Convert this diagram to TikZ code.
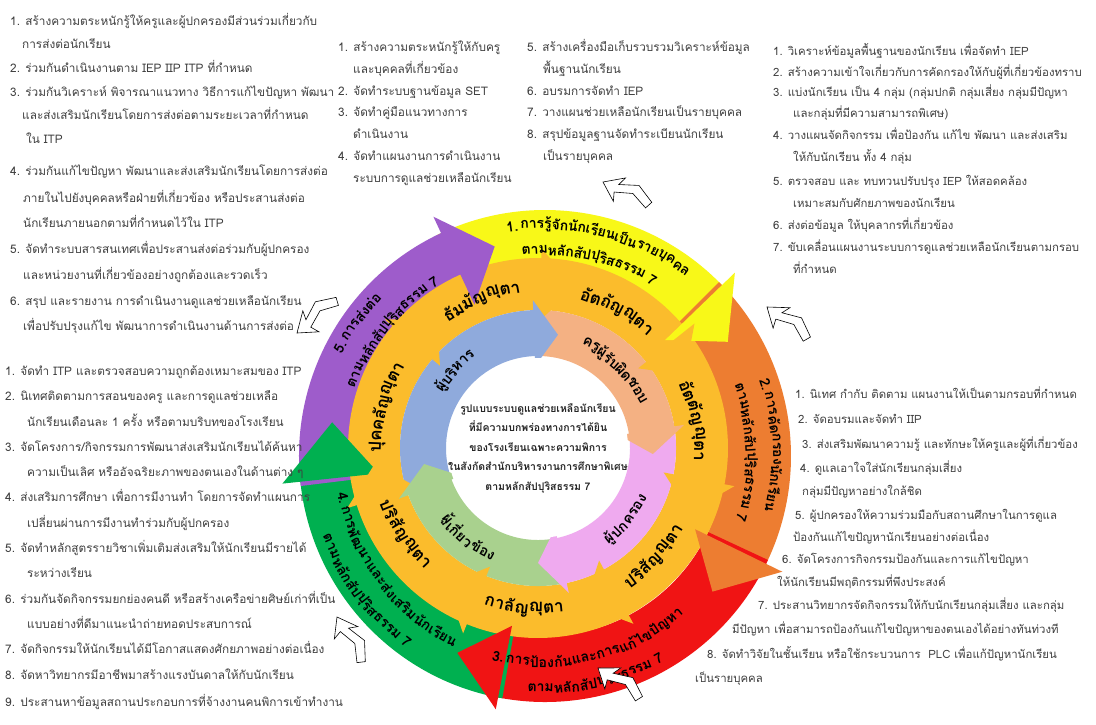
\documentclass[tikz,border=0pt]{standalone}
\usepackage{fontspec}
\newfontfamily\thai[Script=Thai]{Loma}
\usetikzlibrary{calc}
\definecolor{cyel}{HTML}{F8F818}
\definecolor{corg}{HTML}{ED7D31}
\definecolor{cred}{HTML}{F01414}
\definecolor{cgrn}{HTML}{00B050}
\definecolor{cpur}{HTML}{9E5CCB}
\definecolor{cgold}{HTML}{FBBC2C}
\definecolor{cblue}{HTML}{8FAADC}
\definecolor{csal}{HTML}{F4B183}
\definecolor{cpink}{HTML}{EFAAEF}
\definecolor{clgrn}{HTML}{A9D18E}
\definecolor{boxtxt}{HTML}{404040}
\newcounter{chk}
\makeatletter
\newdimen\arcTot
\newdimen\arcW
\newbox\arcBox
\gdef\arcnodes{}
% prepared outside the picture: #1 centre, #2 font, #3 radius, #4 mid angle, #5 dir (1 tops out, -1 tops in), #6 chunks
\newcommand\arcprep[6]{%
  \global\arcTot=0pt\relax
  \@for\ck:=#6\do{\setbox\arcBox\hbox{#2\ck}\global\advance\arcTot by \wd\arcBox}%
  \edef\arcTotv{\strip@pt\arcTot}%
  \pgfmathsetmacro\arccur{#4+(#5)*\arcTotv/(#3)*28.6479}%
  \@for\ck:=#6\do{%
    \setbox\arcBox\hbox{#2\ck}\arcW=\wd\arcBox\relax
    \edef\arcWv{\strip@pt\arcW}%
    \pgfmathsetmacro\arcmid{\arccur-(#5)*\arcWv/(#3)*28.6479}%
    \pgfmathsetmacro\arccur{\arccur-(#5)*\arcWv/(#3)*57.2958}%
    \pgfmathsetmacro\arcrot{\arcmid-(#5)*90}%
    \stepcounter{chk}%
    \xdef\arcnodes{\unexpanded\expandafter{\arcnodes}%
      \noexpand\node[inner sep=0pt,rotate=\arcrot] (chk\thechk) at ($(#1)+(\arcmid:#3)$) {\unexpanded{#2}\unexpanded\expandafter{\ck}};}%
  }%
}
\makeatother
% band: #1 centre #2 colour #3 rin #4 rout #5 start #6 end
\newcommand\rband[6]{%
  \fill[#2] ($(#1)+(#5:#4)$) arc[start angle=#5,end angle=#6,radius=#4]
    -- ($(#1)+(#6:#3)$) arc[start angle=#6,end angle=#5,radius=#3] -- cycle;}
% head: #1 centre #2 colour #3 rin #4 rout #5 base #6 tip #7 ext
\newcommand\rhead[7]{%
  \pgfmathsetmacro\hdo{#4+#7}\pgfmathsetmacro\hdi{#3-#7}\pgfmathsetmacro\hdm{(#3+#4)/2}%
  \fill[#2] ($(#1)+(#5:\hdo)$) -- ($(#1)+(#6:\hdm)$) -- ($(#1)+(#5:\hdi)$) -- cycle;}
% callout arrow: tip x, tip y, rotation
\newcommand\callout[3]{%
  \begin{scope}[shift={(#1,#2)},rotate=#3,scale=1.1]
    \filldraw[fill=white,draw=black,line width=0.6pt,line join=miter]
      (0,0) -- (17,12) -- (14,4) -- (31,11) -- (48,2) -- (45,-5) -- (29,2) -- (13,-4) -- (16,-12) -- cycle;
  \end{scope}}
\newcommand\boxfont{\thai\fontsize{11.8}{14}\selectfont}
\newcommand\boxfontr{\thai\fontsize{11.4}{14}\selectfont}
\newcommand\outfont{\thai\bfseries\fontsize{14}{16}\selectfont}
\newcommand\goldfont{\thai\bfseries\fontsize{17}{19}\selectfont}
\newcommand\innfont{\thai\bfseries\fontsize{14.5}{16}\selectfont}
\tikzset{
  bt/.style={anchor=west,inner sep=0pt,font=\boxfont,text=boxtxt,text height=9pt,text depth=3pt},
  btr/.style={bt,font=\boxfontr},
  dbl/.style={draw=black!70,double=white,line width=0.6pt,double distance=1.6pt}
}
\begin{document}
% ---- outer labels
\arcprep{C}{\outfont}{232}{76}{1}{1.~,การ,รู้,จัก,นัก,เรียน,เป็น,ราย,บุค,คล}%
\arcprep{C}{\outfont}{206}{77}{1}{ตาม,หลัก,สัป,ปุ,ริส,ธรรม,~7}%
\arcprep{C}{\outfont}{232}{3}{1}{2.~,การ,คัด,กรอง,นัก,เรียน}%
\arcprep{C}{\outfont}{206}{1}{1}{ตาม,หลัก,สัป,ปุ,ริส,ธรรม,~7}%
\arcprep{C}{\outfont}{206}{-77}{-1}{3.~,การ,ป้อง,กัน,และ,การ,แก้,ไข,ปัญ,หา}%
\arcprep{C}{\outfont}{232}{-77}{-1}{ตาม,หลัก,สัป,ปุ,ริส,ธรรม,~7}%
\arcprep{C}{\outfont}{206}{-143}{-1}{4.~,การ,พัฒ,นา,และ,ส่ง,เสริม,นัก,เรียน}%
\arcprep{C}{\outfont}{232}{-143}{-1}{ตาม,หลัก,สัป,ปุ,ริส,ธรรม,~7}%
\arcprep{C}{\outfont}{232}{145}{1}{5.~,การ,ส่ง,ต่อ}%
\arcprep{C}{\outfont}{206}{141}{1}{ตาม,หลัก,สัป,ปุ,ริส,ธรรม,~7}%
% ---- gold labels
\arcprep{G}{\goldfont}{161}{165}{1}{ปุค,คลัญ,ญุ,ตา}%
\arcprep{G}{\goldfont}{161}{111}{1}{ธัม,มัญ,ญุ,ตา}%
\arcprep{G}{\goldfont}{161}{60}{1}{อัต,ถัญ,ญุ,ตา}%
\arcprep{G}{\goldfont}{161}{10}{1}{อัต,ตัญ,ญุ,ตา}%
\arcprep{G}{\goldfont}{161}{-43}{-1}{ปริ,สัญ,ญุ,ตา}%
\arcprep{G}{\goldfont}{161}{-95}{-1}{กา,ลัญ,ญุ,ตา}%
\arcprep{G}{\goldfont}{161}{-147}{-1}{ปริ,สัญ,ญุ,ตา}%
% ---- inner labels
\arcprep{G}{\innfont}{115}{137}{1}{ผู้,บริ,หาร}%
\arcprep{G}{\innfont}{115}{45}{1}{ครู,ผู้,รับ,ผิด,ชอบ}%
\arcprep{G}{\innfont}{115}{-39}{-1}{ผู้,ปก,ครอง}%
\arcprep{G}{\innfont}{115}{-128}{-1}{ผู้,เกี่ยว,ข้อง}%
\begin{tikzpicture}[x=1pt,y=1pt]
\useasboundingbox (0,0) rectangle (1096,-724);
\fill[white] (0,0) rectangle (1096,-724);
\coordinate (C) at (545,-456);
\coordinate (G) at (538,-448);

% ---- box borders
\draw[dbl] (333,0) -- (333,-356);
\draw[dbl] (0,-356) -- (322,-356);
\draw[dbl] (765,0) -- (765,-340);
\draw[dbl] (765,-340) -- (1096,-340);
\draw[dbl] (555,-707) -- (555,-724);

% ---- outer ring bands
\rband{C}{cyel}{180}{246}{116}{42.5}
\rband{C}{corg}{180}{246}{45}{-27.5}
\rband{C}{cred}{180}{246}{-25}{-102.5}
\rband{C}{cgrn}{180}{246}{-100}{-175.5}
\rband{C}{cpur}{180}{246}{187}{113.5}
% ---- gold ring bands
\rband{G}{cgold}{138}{190}{197}{138.5}
\rband{G}{cgold}{138}{190}{139}{87.5}
\rband{G}{cgold}{138}{190}{88}{37}
\rband{G}{cgold}{138}{190}{37.5}{-12.5}
\rband{G}{cgold}{138}{190}{-12}{-63}
\rband{G}{cgold}{138}{190}{-62.5}{-113.5}
\rband{G}{cgold}{138}{190}{-113}{-164}
% ---- inner ring bands
\rband{G}{cblue}{92}{138}{199}{90.5}
\rband{G}{csal}{92}{138}{91}{7.5}
\rband{G}{cpink}{92}{138}{8}{-79.5}
\rband{G}{clgrn}{92}{138}{-79}{-161.5}
% ---- heads
\rhead{C}{cyel}{185}{246}{44}{32}{18}
\rhead{C}{corg}{185}{246}{-26}{-39}{18}
\rhead{C}{cred}{185}{246}{-101}{-114}{12}
\rhead{C}{cgrn}{185}{246}{-174}{-189}{18}
\rhead{C}{cpur}{185}{246}{115}{103.5}{18}
\rhead{G}{cgold}{138}{190}{140}{128}{10}
\rhead{G}{cgold}{138}{190}{89}{77}{10}
\rhead{G}{cgold}{138}{190}{38.5}{26.5}{10}
\rhead{G}{cgold}{138}{190}{-11}{-23}{10}
\rhead{G}{cgold}{138}{190}{-61.5}{-73.5}{10}
\rhead{G}{cgold}{138}{190}{-112}{-124}{10}
\rhead{G}{cgold}{138}{190}{-162.5}{-174.5}{10}
\rhead{G}{cblue}{92}{138}{92}{80}{10}
\rhead{G}{csal}{92}{138}{9}{-3}{10}
\rhead{G}{cpink}{92}{138}{-78}{-90}{10}
\rhead{G}{clgrn}{92}{138}{-160}{-172}{10}
\fill[white] (G) circle[radius=90];

% ---- ring labels (prepared above)
\arcnodes

% ---- centre title
\node[align=center,font=\thai\bfseries\fontsize{10.5}{19.5}\selectfont,text=black!85] (title) at (538,-448)
 {รูปแบบระบบดูแลช่วยเหลือนักเรียน\\ที่มีความบกพร่องทางการได้ยิน\\ของโรงเรียนเฉพาะความพิการ\\ในสังกัดสำนักบริหารงานการศึกษาพิเศษ\\ตามหลักสัปปุริสธรรม 7};

% ---- callout arrows
\callout{297}{-333}{40}
\callout{603}{-182}{-25}
\callout{767}{-307}{-37}
\callout{337}{-617}{-60}
\callout{598}{-668}{-35}

% ---- top-left box
\node[bt] (tl1) at (10,-22) {1. สร้างความตระหนักรู้ให้ครูและผู้ปกครองมีส่วนร่วมเกี่ยวกับ};
\node[bt] (tl2) at (22,-45) {การส่งต่อนักเรียน};
\node[bt] (tl3) at (10,-69) {2. ร่วมกันดำเนินงานตาม IEP IIP ITP ที่กำหนด};
\node[bt] (tl4) at (10,-93) {3. ร่วมกันวิเคราะห์ พิจารณาแนวทาง วิธีการแก้ไขปัญหา พัฒนา};
\node[bt] (tl5) at (22,-116) {และส่งเสริมนักเรียนโดยการส่งต่อตามระยะเวลาที่กำหนด};
\node[bt] (tl6) at (26,-140) {ใน ITP};
\node[bt] (tl7) at (10,-172) {4. ร่วมกันแก้ไขปัญหา พัฒนาและส่งเสริมนักเรียนโดยการส่งต่อ};
\node[bt] (tl8) at (23,-199) {ภายในไปยังบุคคลหรือฝ่ายที่เกี่ยวข้อง หรือประสานส่งต่อ};
\node[bt] (tl9) at (23,-224) {นักเรียนภายนอกตามที่กำหนดไว้ใน ITP};
\node[bt] (tl10) at (10,-250) {5. จัดทำระบบสารสนเทศเพื่อประสานส่งต่อร่วมกับผู้ปกครอง};
\node[bt] (tl11) at (23,-276) {และหน่วยงานที่เกี่ยวข้องอย่างถูกต้องและรวดเร็ว};
\node[bt] (tl12) at (10,-302) {6. สรุป และรายงาน การดำเนินงานดูแลช่วยเหลือนักเรียน};
\node[bt] (tl13) at (23,-327) {เพื่อปรับปรุงแก้ไข พัฒนาการดำเนินงานด้านการส่งต่อ};

% ---- top-middle box
\node[bt] (tm1) at (338,-48) {1. สร้างความตระหนักรู้ให้กับครู};
\node[bt] (tm2) at (353,-70) {และบุคคลที่เกี่ยวข้อง};
\node[bt] (tm3) at (338,-92) {2. จัดทำระบบฐานข้อมูล SET};
\node[bt] (tm4) at (338,-113) {3. จัดทำคู่มือแนวทางการ};
\node[bt] (tm5) at (353,-135) {ดำเนินงาน};
\node[bt] (tm6) at (338,-157) {4. จัดทำแผนงานการดำเนินงาน};
\node[bt] (tm7) at (353,-179) {ระบบการดูแลช่วยเหลือนักเรียน};
\node[bt] (tm8) at (527,-48) {5. สร้างเครื่องมือเก็บรวบรวมวิเคราะห์ข้อมูล};
\node[bt] (tm9) at (543,-70) {พื้นฐานนักเรียน};
\node[bt] (tm10) at (527,-92) {6. อบรมการจัดทำ IEP};
\node[bt] (tm11) at (527,-113) {7. วางแผนช่วยเหลือนักเรียนเป็นรายบุคคล};
\node[bt] (tm12) at (527,-135) {8. สรุปข้อมูลฐานจัดทำระเบียนนักเรียน};
\node[bt] (tm13) at (543,-157) {เป็นรายบุคคล};

% ---- top-right box
\node[btr] (tr1) at (773,-52) {1. วิเคราะห์ข้อมูลพื้นฐานของนักเรียน เพื่อจัดทำ IEP};
\node[btr] (tr2) at (773,-73) {2. สร้างความเข้าใจเกี่ยวกับการคัดกรองให้กับผู้ที่เกี่ยวข้องทราบ};
\node[btr] (tr3) at (773,-93) {3. แบ่งนักเรียน เป็น 4 กลุ่ม (กลุ่มปกติ กลุ่มเสี่ยง กลุ่มมีปัญหา};
\node[btr] (tr4) at (793,-114) {และกลุ่มที่มีความสามารถพิเศษ)};
\node[btr] (tr5) at (773,-136) {4. วางแผนจัดกิจกรรม เพื่อป้องกัน แก้ไข พัฒนา และส่งเสริม};
\node[btr] (tr6) at (793,-158) {ให้กับนักเรียน ทั้ง 4 กลุ่ม};
\node[btr] (tr7) at (773,-182) {5. ตรวจสอบ และ ทบทวนปรับปรุง IEP ให้สอดคล้อง};
\node[btr] (tr8) at (793,-204) {เหมาะสมกับศักยภาพของนักเรียน};
\node[btr] (tr9) at (773,-226) {6. ส่งต่อข้อมูล ให้บุคลากรที่เกี่ยวข้อง};
\node[btr] (tr10) at (773,-248) {7. ขับเคลื่อนแผนงานระบบการดูแลช่วยเหลือนักเรียนตามกรอบ};
\node[btr] (tr11) at (793,-270) {ที่กำหนด};

% ---- bottom-left box
\node[bt] (bl1) at (5,-372) {1. จัดทำ ITP และตรวจสอบความถูกต้องเหมาะสมของ ITP};
\node[bt] (bl2) at (5,-397) {2. นิเทศติดตามการสอนของครู และการดูแลช่วยเหลือ};
\node[bt] (bl3) at (27,-423) {นักเรียนเดือนละ 1 ครั้ง หรือตามบริบทของโรงเรียน};
\node[bt] (bl4) at (5,-448) {3. จัดโครงการ/กิจกรรมการพัฒนาส่งเสริมนักเรียนได้ค้นหา};
\node[bt] (bl5) at (27,-473) {ความเป็นเลิศ หรืออัจฉริยะภาพของตนเองในด้านต่าง ๆ};
\node[bt] (bl6) at (5,-498) {4. ส่งเสริมการศึกษา เพื่อการมีงานทำ โดยการจัดทำแผนการ};
\node[bt] (bl7) at (27,-524) {เปลี่ยนผ่านการมีงานทำร่วมกับผู้ปกครอง};
\node[bt] (bl8) at (5,-549) {5. จัดทำหลักสูตรรายวิชาเพิ่มเติมส่งเสริมให้นักเรียนมีรายได้};
\node[bt] (bl9) at (27,-574) {ระหว่างเรียน};
\node[bt] (bl10) at (5,-600) {6. ร่วมกันจัดกิจกรรมยกย่องคนดี หรือสร้างเครือข่ายศิษย์เก่าที่เป็น};
\node[bt] (bl11) at (27,-625) {แบบอย่างที่ดีมาแนะนำถ่ายทอดประสบการณ์};
\node[bt] (bl12) at (5,-650) {7. จัดกิจกรรมให้นักเรียนได้มีโอกาสแสดงศักยภาพอย่างต่อเนื่อง};
\node[bt] (bl13) at (5,-676) {8. จัดหาวิทยากรมีอาชีพมาสร้างแรงบันดาลให้กับนักเรียน};
\node[bt] (bl14) at (5,-703) {9. ประสานหาข้อมูลสถานประกอบการที่จ้างงานคนพิการเข้าทำงาน};

% ---- bottom-right text
\node[btr] (br1) at (795,-395) {1. นิเทศ กำกับ ติดตาม แผนงานให้เป็นตามกรอบที่กำหนด};
\node[btr] (br2) at (798,-420) {2. จัดอบรมและจัดทำ IIP};
\node[btr] (br3) at (802,-445) {3. ส่งเสริมพัฒนาความรู้ และทักษะให้ครูและผู้ที่เกี่ยวข้อง};
\node[btr] (br4) at (800,-469) {4. ดูแลเอาใจใส่นักเรียนกลุ่มเสี่ยง};
\node[btr] (br5) at (802,-492) {กลุ่มมีปัญหาอย่างใกล้ชิด};
\node[btr] (br6) at (795,-516) {5. ผู้ปกครองให้ความร่วมมือกับสถานศึกษาในการดูแล};
\node[btr] (br7) at (793,-538) {ป้องกันแก้ไขปัญหานักเรียนอย่างต่อเนื่อง};
\node[btr] (br8) at (782,-560) {6. จัดโครงการกิจกรรมป้องกันและการแก้ไขปัญหา};
\node[btr] (br9) at (777,-583) {ให้นักเรียนมีพฤติกรรมที่พึงประสงค์};
\node[btr] (br10) at (758,-606) {7. ประสานวิทยากรจัดกิจกรรมให้กับนักเรียนกลุ่มเสี่ยง และกลุ่ม};
\node[btr] (br11) at (732,-630) {มีปัญหา เพื่อสามารถป้องกันแก้ไขปัญหาของตนเองได้อย่างทันท่วงที};
\node[btr] (br12) at (707,-655) {8. จัดทำวิจัยในชั้นเรียน หรือใช้กระบวนการ\ \ PLC เพื่อแก้ปัญหานักเรียน};
\node[btr] (br13) at (695,-679) {เป็นรายบุคคล};
\end{tikzpicture}
\end{document}
